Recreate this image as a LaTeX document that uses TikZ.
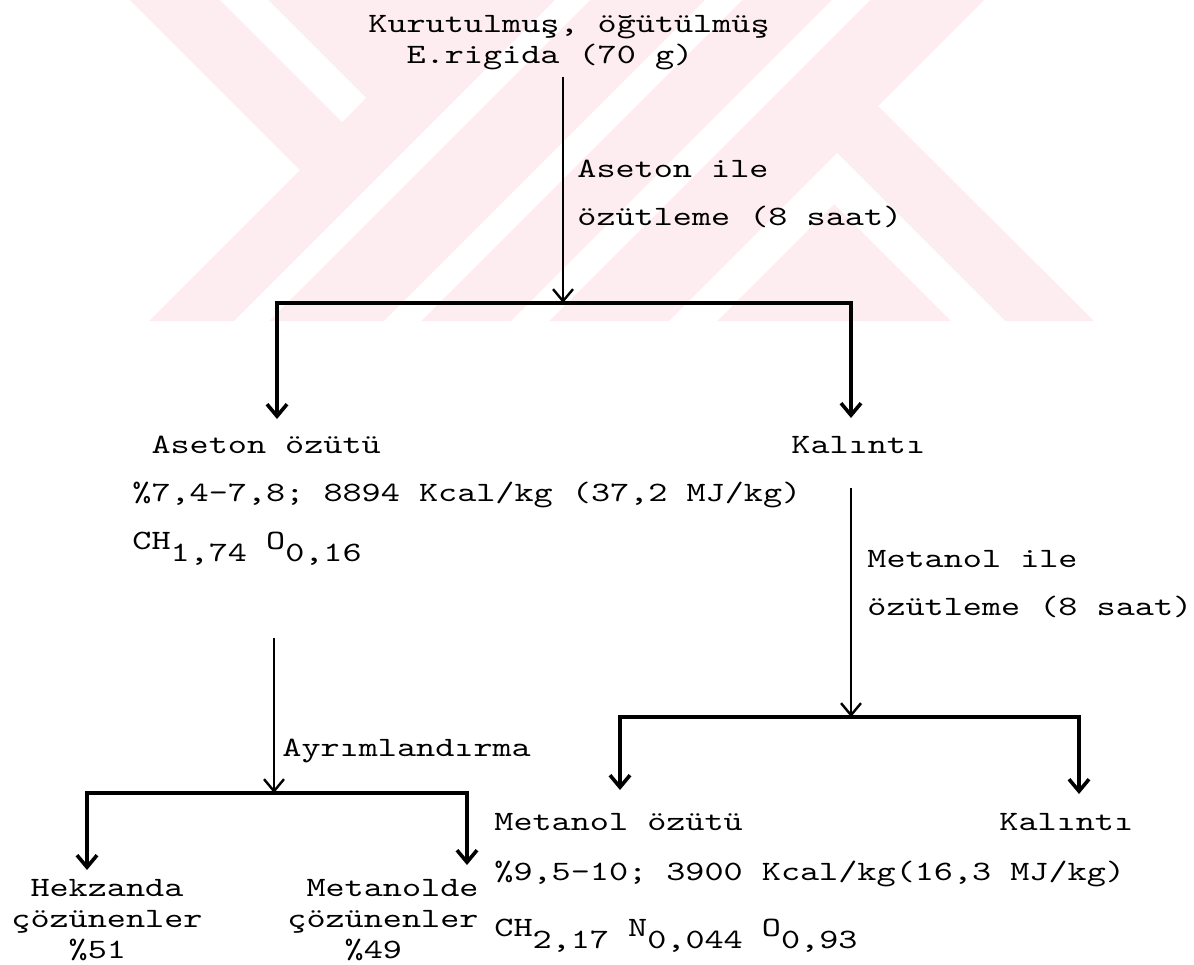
\documentclass[tikz,border=0pt]{standalone}
\usepackage{fontspec}
\usepackage{tikz}
\usetikzlibrary{arrows.meta}
\newfontfamily\tw[FakeStretch=1.3]{lmmono10-regular.otf}
\definecolor{wmpink}{RGB}{253,237,241}
\newcommand{\dn}[1]{\raisebox{-6pt}{#1}}

\begin{document}
\begin{tikzpicture}[x=0.5pt, y=-0.5pt,
  every node/.style={inner sep=0pt, anchor=base west, align=left,
  font=\tw\fontsize{14}{24}\selectfont},
  tight/.style={font=\tw\fontsize{14}{15.5}\selectfont},
  wide/.style={font=\tw\fontsize{14}{25}\selectfont},
  link/.style={line width=1.2pt, -{Straight Barb[length=6pt,width=10pt]}},
  bar/.style={line width=1.8pt,
  {Straight Barb[length=6pt,width=10pt]}-{Straight Barb[length=6pt,width=10pt]}}]
  \useasboundingbox (0,0) rectangle (1194,964);
  % watermark
  \begin{scope}
    \clip (0,0) rectangle (1194,321);
    \fill[wmpink] (130,0) -- (300,170) -- (149,321) -- (1094,321) -- (878,106) -- (984,0) -- cycle;
    \fill[white] (220,0) -- (268,0) -- (366,98) -- (342,122) -- cycle;
    \fill[white] (555,0) -- (590,0) -- (269,321) -- (234,321) -- cycle;
    \fill[white] (705,0) -- (742,0) -- (421,321) -- (384,321) -- cycle;
    \fill[white] (832,0) -- (870,0) -- (549,321) -- (511,321) -- cycle;
    \fill[white] (837,153) -- (1005,321) -- (951,321) -- (834,204) -- (717,321) -- (669,321) -- cycle;
  \end{scope}

  % multi-line nodes sit on the baseline of their last line
  \node (src) at (368,63) [tight] {Kurutulmuş, öğütülmüş\\\hphantom{xx}E.rigida (70 g)};
  \node (lab1) at (577,225) {Aseton ile\\özütleme (8 saat)};
  \node (ase) at (132,549) {\hphantom{x}Aseton özütü\\\%7,4-7,8; 8894 Kcal/kg (37,2 MJ/kg)\\CH\dn{1,74} O\dn{0,16}};
  \node (kal1) at (791,453) {Kalıntı};
  \node (lab3) at (867,615) {Metanol ile\\özütleme (8 saat)};
  \node (lab2) at (282,756) {Ayrımlandırma};
  \node (hek) at (11,958) [tight] {\hphantom{x}Hekzanda\\çözünenler\\\hphantom{xxx}\%51};
  \node (metd) at (287,958) [tight] {\hphantom{x}Metanolde\\çözünenler\\\hphantom{xxx}\%49};
  \node (met) at (494,936) [wide] {Metanol özütü\\\%9,5-10; 3900 Kcal/kg(16,3 MJ/kg)\\[3pt]CH\dn{2,17} N\dn{0,044} O\dn{0,93}};
  \node (kal2) at (999,830) {Kalıntı};

  \coordinate (j1) at (563,303);
  \coordinate (d1l) at (277,419);
  \coordinate (d1r) at (851,418);
  \coordinate (t2) at (274,638);
  \coordinate (j2) at (274,793);
  \coordinate (d2l) at (87,870);
  \coordinate (d2r) at (467,865);
  \coordinate (t3) at (851,488);
  \coordinate (j3) at (851,717);
  \coordinate (d3l) at (620,790);
  \coordinate (d3r) at (1079,794);

  \draw[link, shorten <=3.5pt] (src.south -| j1) -- (j1);
  \draw[bar] (d1l) |- (j1) -| (d1r);
  \draw[link] (t2) -- (j2);
  \draw[bar] (d2l) |- (j2) -| (d2r);
  \draw[link] (t3) -- (j3);
  \draw[bar] (d3l) |- (j3) -| (d3r);
\end{tikzpicture}
\end{document}
